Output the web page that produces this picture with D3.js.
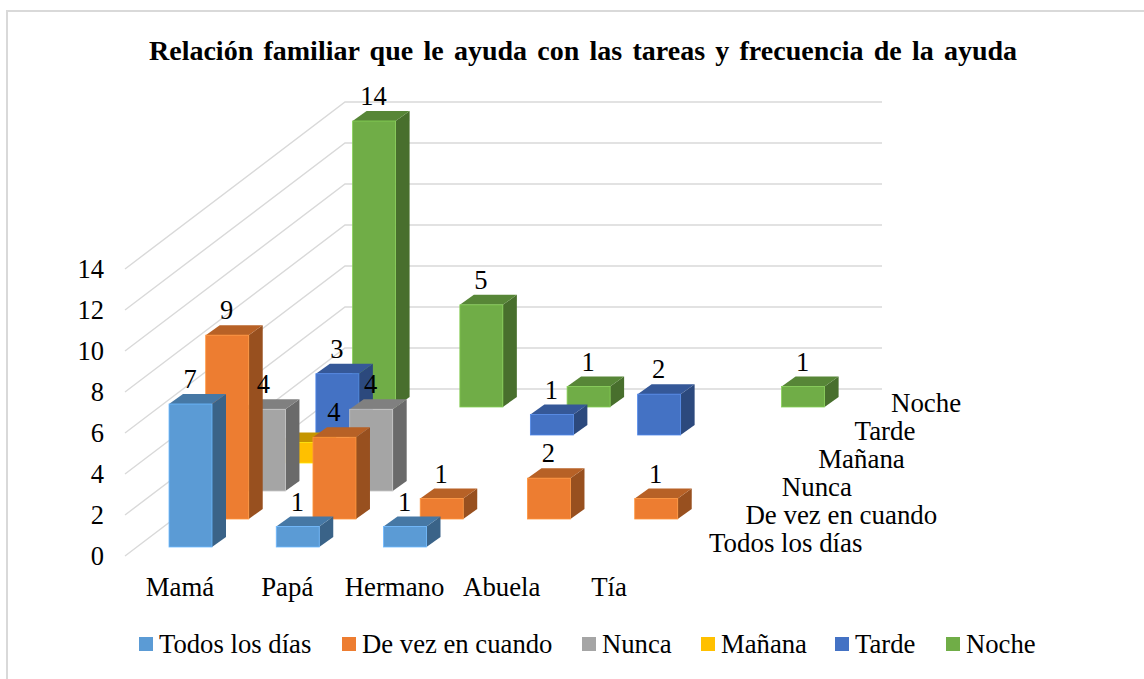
<!DOCTYPE html>
<html><head><meta charset="utf-8">
<script src="https://cdnjs.cloudflare.com/ajax/libs/d3/7.8.5/d3.min.js"></script>
<style>html,body{margin:0;padding:0;background:#fff}svg{display:block}text{font-family:"Liberation Serif","Times New Roman",serif;fill:#000}</style>
</head><body><svg id="c" width="1144" height="679"></svg>
<script>
const chartTitle = "Relación familiar que le ayuda con las tareas y frecuencia de la ayuda";
const categories = ["Mamá","Papá","Hermano","Abuela","Tía"];
const seriesNames = ["Todos los días","De vez en cuando","Nunca","Mañana","Tarde","Noche"];
const seriesColors = ["#5B9BD5","#ED7D31","#A5A5A5","#FFC000","#4472C4","#70AD47"];
const todosLosDias = [7,1,1,null,null];
const deVezEnCuando = [9,4,1,2,1];
const nunca = [4,4,null,null,null];
const manana = [1,null,null,null,null];
const tarde = [3,null,1,2,null];
const noche = [14,5,1,null,1];
const seriesValues = [todosLosDias,deVezEnCuando,nunca,manana,tarde,noche];
const yTicks = [0,2,4,6,8,10,12,14];
const hiddenLabels = [[3,0]];

const svg = d3.select("#c");
svg.append("rect").attr("x",7).attr("y",11).attr("width",1140).attr("height",680)
  .attr("fill","#fff").attr("stroke","#D9D9D9").attr("stroke-width",2);

const x0 = d3.scalePoint().domain(categories).range([169,598]);
const depthX = d3.scaleLinear().domain([0,5]).range([0,183.6]);
const depthY = d3.scaleLinear().domain([0,5]).range([0,-140]);
const labelX = d3.scaleLinear().domain([0,5]).range([709,891]);
const h = d3.scaleLinear().domain([0,14]).range([0,286]);
const barW = 43, sdx = 14, sdy = -10;
const floorY = 547;

const gy = d3.scaleLinear().domain([0,14]).range([556,269]);
const g = svg.append("g");
yTicks.forEach(t=>{
  const y = gy(t);
  g.append("path").attr("d",`M125,${y}L345,${y-167}L882,${y-167}`)
   .attr("fill","none").attr("stroke","#D9D9D9").attr("stroke-width",1.4);
});
g.selectAll("text.t").data(yTicks).join("text").attr("class","t")
  .attr("x",104).attr("y",d=>gy(d)+9).attr("text-anchor","end").attr("font-size",26.5).text(d=>d);

const bars = svg.append("g");
const labels = [];
for(let s=5;s>=0;s--){
  const col = d3.color(seriesColors[s]);
  const top = col.darker(0.72), side = col.darker(1.25);
  categories.forEach((c,i)=>{
    const v = seriesValues[s][i];
    if(v==null) return;
    const x = x0(c)+depthX(s), b = floorY+depthY(s), t = b-h(v);
    bars.append("path").attr("d",`M${x+barW},${t}L${x+barW+sdx},${t+sdy}L${x+barW+sdx},${b+sdy}L${x+barW},${b}Z`).attr("fill",side);
    bars.append("path").attr("d",`M${x},${t}L${x+sdx},${t+sdy}L${x+barW+sdx},${t+sdy}L${x+barW},${t}Z`).attr("fill",top);
    bars.append("rect").attr("x",x).attr("y",t).attr("width",barW).attr("height",b-t)
      .attr("fill",col.toString()).attr("stroke",col.brighter(0.5).toString()).attr("stroke-width",0.8);
    if(!hiddenLabels.some(p=>p[0]===s&&p[1]===i)) labels.push({x:x+barW/2,y:t-16,v});
  });
}
svg.append("g").selectAll("text").data(labels).join("text")
  .attr("x",d=>d.x-0.5).attr("y",d=>d.y).attr("text-anchor","middle").attr("font-size",26.5).text(d=>d.v);

svg.append("g").selectAll("text").data(categories).join("text")
  .attr("x",d=>x0(d)+11).attr("y",596).attr("text-anchor","middle").attr("font-size",26.8).text(d=>d);

svg.append("g").selectAll("text").data(seriesNames).join("text")
  .attr("x",(d,i)=>labelX(i)).attr("y",(d,i)=>552+depthY(i)).attr("font-size",26.9).text(d=>d);

svg.append("text").attr("x",149).attr("y",60).attr("font-size",28).attr("font-weight","bold")
  .attr("word-spacing",3.25).text(chartTitle);

const legendX = [139,342,582,701,835,946];
const leg = svg.append("g").selectAll("g").data(seriesNames).join("g")
  .attr("transform",(d,i)=>`translate(${legendX[i]},637)`);
leg.append("rect").attr("width",14).attr("height",14).attr("fill",(d,i)=>seriesColors[i]);
leg.append("text").attr("x",20).attr("y",16).attr("font-size",26.7).text(d=>d);
</script></body></html>
